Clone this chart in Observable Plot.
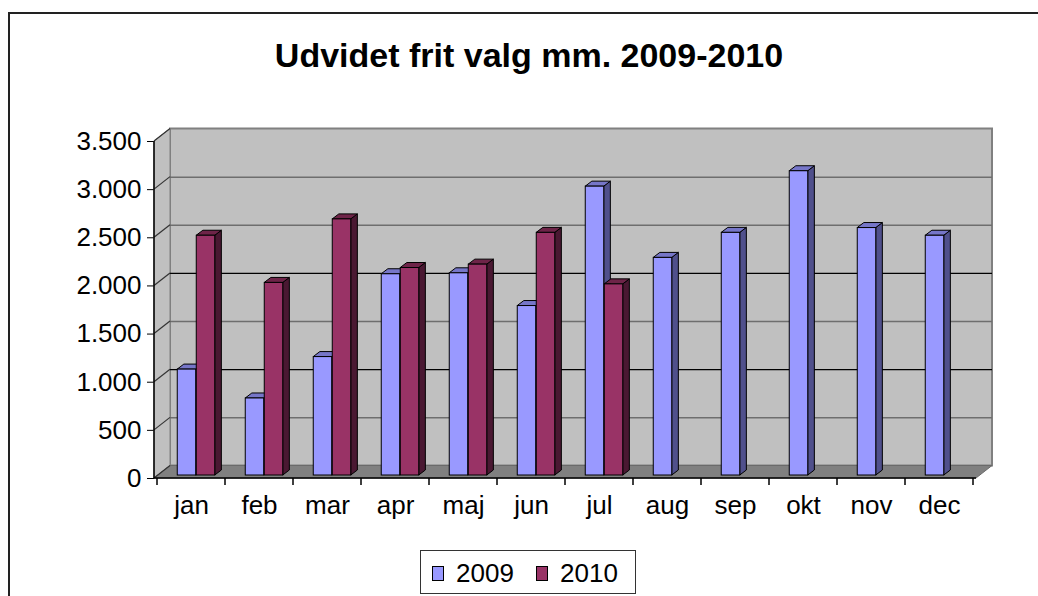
<!DOCTYPE html>
<html>
<head>
<meta charset="utf-8">
<script src="https://cdn.jsdelivr.net/npm/d3@7"></script>
<script src="https://cdn.jsdelivr.net/npm/@observablehq/plot@0.6"></script>
<style>
  body { margin: 0; background: #fff; font-family: "Liberation Sans", Arial, sans-serif; }
  #wrap { position: relative; width: 1038px; height: 596px; overflow: hidden; background: #fff; }
  #border { position: absolute; left: 8px; top: 12px; width: 1200px; height: 800px; border: 2px solid #222; box-sizing: border-box; }
  #title { position: absolute; left: 0; width: 1058px; top: 38px; text-align: center; font-weight: bold; font-size: 34px; line-height: 34px; color: #000; white-space: nowrap; }
  #chart { position: absolute; left: 0; top: 100px; }
  #legend { position: absolute; left: 420px; top: 550px; width: 216px; height: 44px; border: 1px solid #333; box-sizing: border-box; background: #fff; }
  .sw { position: absolute; top: 15px; width: 12px; height: 15px; border: 1px solid #000; box-sizing: border-box; }
  .lt { position: absolute; top: 9px; font-size: 26px; line-height: 26px; color: #000; }
</style>
</head>
<body>
<div id="wrap">
  <div id="border"></div>
  <div id="title"></div>
  <div id="chart"></div>
  <div id="legend"></div>
</div>
<script>
const title = "Udvidet frit valg mm. 2009-2010";
const months = ["jan", "feb", "mar", "apr", "maj", "jun", "jul", "aug", "sep", "okt", "nov", "dec"];
const series = ["2009", "2010"];
const values2009 = [1100, 800, 1230, 2090, 2100, 1760, 3000, 2260, 2520, 3160, 2570, 2490];
const values2010 = [2490, 2000, 2660, 2155, 2190, 2520, 1985];
const yTicks = [0, 500, 1000, 1500, 2000, 2500, 3000, 3500];
const yTickLabels = ["0", "500", "1.000", "1.500", "2.000", "2.500", "3.000", "3.500"];

const colors = {
  "2009": {front: "#9999ff", side: "#50508c", top: "#7676c8"},
  "2010": {front: "#993366", side: "#4a1832", top: "#6e2448"}
};

const rows = [];
values2009.forEach((v, i) => rows.push({month: months[i], series: "2009", value: v}));
values2010.forEach((v, i) => rows.push({month: months[i], series: "2010", value: v}));

// styling constants (pixels)
const DX = 16, DY = -12.5;      // wall depth
const BX = 5, BY = -3;          // bar front offset into depth
const SX = 6.6, SY = -5;        // bar depth
const insetL = {"2009": 15.25, "2010": 34.25};
const insetR = {"2009": 34.25, "2010": 15.25};

document.getElementById("title").textContent = title;

function poly(g, pts, fill, stroke, sw) {
  g.append("polygon")
    .attr("points", pts.map(p => p.join(",")).join(" "))
    .attr("fill", fill)
    .attr("stroke", stroke)
    .attr("stroke-width", sw)
    .attr("stroke-linejoin", "miter");
}

function walls(index, scales, values, dims) {
  const g = d3.create("svg:g");
  const x0 = dims.marginLeft, x1 = dims.width - dims.marginRight;
  const yb = scales.y(0), yt = scales.y(3500);
  g.append("rect")
    .attr("x", x0 + DX).attr("y", yt + DY)
    .attr("width", x1 - x0).attr("height", yb - yt)
    .attr("fill", "#c0c0c0").attr("stroke", "#808080").attr("stroke-width", 2);
  poly(g, [[x0, yb], [x0, yt], [x0 + DX, yt + DY], [x0 + DX, yb + DY]], "#c0c0c0", "#808080", 1);
  poly(g, [[x0, yb], [x1, yb], [x1 + DX, yb + DY], [x0 + DX, yb + DY]], "#808080", "#6a6a6a", 1);
  return g.node();
}

function diagonals(index, scales, values, dims) {
  const g = d3.create("svg:g");
  const x0 = dims.marginLeft;
  for (const v of yTicks) {
    const y = scales.y(v);
    g.append("line").attr("x1", x0).attr("y1", y).attr("x2", x0 + DX).attr("y2", y + DY)
      .attr("stroke", "#333").attr("stroke-width", 1.2);
  }
  return g.node();
}

function axes(index, scales, values, dims) {
  const g = d3.create("svg:g");
  const x0 = dims.marginLeft, x1 = dims.width - dims.marginRight;
  const yb = scales.y(0), yt = scales.y(3500);
  g.append("line").attr("x1", x0).attr("y1", yt).attr("x2", x0).attr("y2", yb)
    .attr("stroke", "#000").attr("stroke-width", 1.5);
  g.append("line").attr("x1", x0).attr("y1", yb).attr("x2", x1).attr("y2", yb)
    .attr("stroke", "#000").attr("stroke-width", 1.5);
  const bw = scales.x.bandwidth ? scales.x.bandwidth() : (x1 - x0) / months.length;
  const bounds = months.map(m => scales.x(m)).concat([scales.x(months[months.length - 1]) + bw]);
  for (const bx of bounds) {
    g.append("line").attr("x1", bx).attr("y1", yb).attr("x2", bx).attr("y2", yb + 7)
      .attr("stroke", "#000").attr("stroke-width", 1.5);
  }
  return g.node();
}

function barFaces(index, scales, values, dims) {
  const g = d3.create("svg:g");
  const x0p = dims.marginLeft, x1p = dims.width - dims.marginRight;
  const bw = scales.x.bandwidth ? scales.x.bandwidth() : (x1p - x0p) / months.length;
  for (const s of series) {
    for (const r of rows.filter(d => d.series === s)) {
      const xa = scales.x(r.month) + insetL[s] + BX;
      const xb = scales.x(r.month) + bw - insetR[s] + BX;
      const yt = scales.y(r.value) + BY;
      const yb = scales.y(0) + BY;
      poly(g, [[xb, yb], [xb + SX, yb + SY], [xb + SX, yt + SY], [xb, yt]], colors[s].side, "#000", 1);
      poly(g, [[xa, yt], [xb, yt], [xb + SX, yt + SY], [xa + SX, yt + SY]], colors[s].top, "#000", 1);
    }
  }
  return g.node();
}

const chart = Plot.plot({
  width: 1038,
  height: 430,
  marginLeft: 154,
  marginRight: 62,
  marginTop: 41,
  marginBottom: 52,
  style: {fontFamily: "'Liberation Sans', Arial, sans-serif", fontSize: "26px", color: "#000", background: "transparent", overflow: "visible"},
  x: {domain: months, padding: 0, tickSize: 0, tickPadding: 17.5, label: null},
  y: {domain: [0, 3500], ticks: yTicks, tickFormat: d => yTickLabels[yTicks.indexOf(d)], tickSize: 7, tickPadding: 6, label: null},
  marks: [
    walls,
    Plot.ruleY([500, 1500, 2500, 3000], {dx: DX, dy: DY, stroke: "#6e6e6e", strokeWidth: 1.5}),
    Plot.ruleY([1000, 2000], {dx: DX, dy: DY, stroke: "#000", strokeWidth: 1.2}),
    diagonals,
    axes,
    barFaces,
    ...series.map(s => Plot.barY(rows.filter(d => d.series === s), {
      x: "month", y: "value", fill: colors[s].front, stroke: "#000", strokeWidth: 1,
      insetLeft: insetL[s], insetRight: insetR[s], dx: BX, dy: BY
    }))
  ]
});
document.getElementById("chart").appendChild(chart);

// legend
const legend = document.getElementById("legend");
const swLeft = [10.7, 114.7], txtLeft = [35, 139];
series.forEach((s, i) => {
  const sw = document.createElement("span");
  sw.className = "sw"; sw.style.left = swLeft[i] + "px"; sw.style.background = colors[s].front;
  const t = document.createElement("span");
  t.className = "lt"; t.style.left = txtLeft[i] + "px"; t.textContent = s;
  legend.appendChild(sw); legend.appendChild(t);
});
</script>
</body>
</html>
